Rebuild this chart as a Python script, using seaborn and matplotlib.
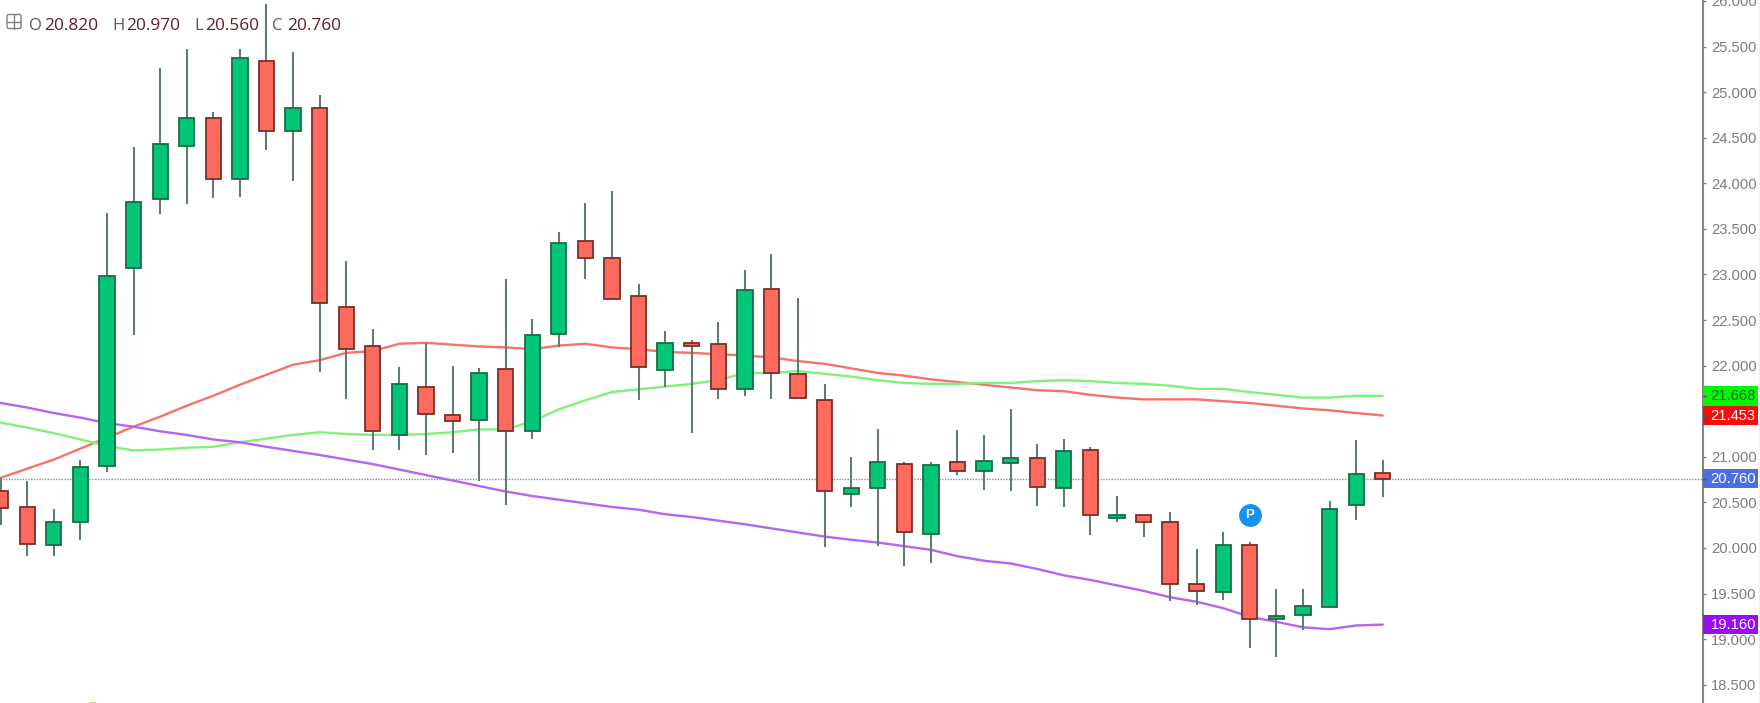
import numpy as np
import pandas as pd
import matplotlib
matplotlib.use("Agg")
import matplotlib.pyplot as plt
from matplotlib.patches import Rectangle, FancyBboxPatch
import seaborn as sns

# Daily price candles
opens = [20.62, 20.45, 20.03, 20.29, 20.90, 23.07, 23.83, 24.41, 24.72, 24.05, 25.34, 24.57, 24.83,
         22.64, 22.21, 21.24, 21.77, 21.46, 21.40, 21.96, 21.28, 22.35, 23.37, 23.18, 22.76, 21.95,
         22.25, 22.24, 21.74, 22.84, 21.91, 21.62, 20.59, 20.66, 20.92, 20.15, 20.94, 20.84, 20.93,
         20.99, 20.66, 21.08, 20.33, 20.36, 20.29, 19.61, 19.52, 20.03, 19.22, 19.26, 19.35, 20.47, 20.82]
highs = [20.77, 20.74, 20.43, 20.96, 23.67, 24.40, 25.26, 25.47, 24.78, 25.47, 25.97, 25.44, 24.97,
         23.15, 22.40, 21.98, 22.25, 22.00, 21.97, 22.95, 22.51, 23.47, 23.78, 23.92, 22.89, 22.38,
         22.28, 22.48, 23.05, 23.22, 22.74, 21.80, 21.00, 21.30, 20.94, 20.94, 21.29, 21.24, 21.52,
         21.14, 21.19, 21.11, 20.57, 20.36, 20.40, 19.99, 20.17, 20.07, 19.55, 19.55, 20.51, 21.18, 20.97]
lows = [20.25, 19.91, 19.91, 20.09, 20.83, 22.34, 23.66, 23.77, 23.84, 23.85, 24.36, 24.03, 21.93,
        21.63, 21.08, 21.08, 21.02, 21.04, 20.74, 20.47, 21.19, 22.20, 22.95, 22.73, 21.62, 21.77,
        21.26, 21.63, 21.67, 21.63, 21.65, 20.01, 20.45, 20.02, 19.80, 19.84, 20.80, 20.64, 20.63,
        20.46, 20.45, 20.14, 20.28, 20.12, 19.42, 19.38, 19.43, 18.90, 18.80, 19.10, 19.34, 20.31, 20.56]
closes = [20.44, 20.04, 20.29, 20.89, 22.98, 23.79, 24.43, 24.72, 24.05, 25.37, 24.57, 24.83, 22.69,
          22.18, 21.28, 21.80, 21.47, 21.39, 21.92, 21.28, 22.34, 23.35, 23.18, 22.73, 21.98, 22.25,
          22.22, 21.74, 22.83, 21.92, 21.65, 20.63, 20.66, 20.94, 20.18, 20.91, 20.84, 20.95, 20.99,
          20.67, 21.06, 20.36, 20.36, 20.29, 19.61, 19.53, 20.03, 19.22, 19.25, 19.36, 20.43, 20.81, 20.76]

# Moving averages
ma_red = [20.77, 20.87, 20.97, 21.09, 21.21, 21.33, 21.44, 21.56, 21.67, 21.79, 21.90, 22.01, 22.06,
          22.14, 22.16, 22.24, 22.25, 22.23, 22.21, 22.20, 22.18, 22.22, 22.24, 22.20, 22.18, 22.15,
          22.14, 22.125, 22.11, 22.09, 22.05, 22.02, 21.97, 21.92, 21.89, 21.85, 21.82, 21.79, 21.76,
          21.73, 21.72, 21.68, 21.65, 21.63, 21.63, 21.63, 21.61, 21.59, 21.56, 21.53, 21.51, 21.48, 21.453]
ma_green = [21.375, 21.32, 21.26, 21.19, 21.12, 21.07, 21.08, 21.10, 21.11, 21.16, 21.20, 21.24, 21.27,
            21.25, 21.24, 21.24, 21.25, 21.27, 21.30, 21.30, 21.39, 21.52, 21.62, 21.71, 21.74, 21.77,
            21.80, 21.84, 21.92, 21.92, 21.94, 21.91, 21.88, 21.84, 21.81, 21.80, 21.80, 21.81, 21.81,
            21.83, 21.84, 21.83, 21.81, 21.80, 21.78, 21.745, 21.745, 21.71, 21.68, 21.65, 21.65, 21.67, 21.668]
ma_purple = [21.59, 21.54, 21.48, 21.43, 21.37, 21.33, 21.28, 21.24, 21.19, 21.16, 21.11, 21.065, 21.02,
             20.97, 20.92, 20.86, 20.80, 20.74, 20.68, 20.62, 20.57, 20.53, 20.49, 20.45, 20.42, 20.37,
             20.34, 20.30, 20.26, 20.215, 20.17, 20.125, 20.09, 20.06, 20.02, 19.98, 19.91, 19.86, 19.83,
             19.77, 19.70, 19.65, 19.59, 19.53, 19.46, 19.41, 19.34, 19.245, 19.19, 19.13, 19.11, 19.15, 19.16]

price_ticks = [18.5, 19.0, 19.5, 20.0, 20.5, 21.0, 21.5, 22.0, 22.5, 23.0, 23.5, 24.0, 24.5, 25.0, 25.5, 26.0]
last_price = 20.760
ohlc_letters = ["O", "H", "L", "C"]
ohlc_values = ["20.820", "20.970", "20.560", "20.760"]
price_tags = [(21.668, "#00f808", "#1f6a1f"), (21.453, "#fa0a0a", "white"),
              (20.760, "#4a6fe0", "white"), (19.160, "#9a0cf5", "white")]
pivot_bar = 47
pivot_price = 20.36

UP, DOWN = "#00c676", "#ff6a5e"
UP_EDGE, DOWN_EDGE = "#1c6a4a", "#7a2e2a"
WICK = "#5f7d70"
GRAY = "#7c7c7c"

sns.set_theme(style="white")
plt.rcParams["font.family"] = ["Liberation Sans", "DejaVu Sans"]

W, H, AXIS_X = 1760, 703, 1703
fig = plt.figure(figsize=(W / 100, H / 100), dpi=100, facecolor="white")
ax = fig.add_axes([0, 0, AXIS_X / W, 1])
ax.set_xlim(-0.026, 64.05)
ax.set_ylim(18.30, 26.01)

frame = pd.DataFrame({"bar": np.arange(len(opens)), "open": opens, "high": highs,
                      "low": lows, "close": closes,
                      "red": ma_red, "green": ma_green, "purple": ma_purple})
rising = frame["close"] >= frame["open"]

# Last-price guide sits behind everything else
ax.axhline(last_price, color="#5b78d8", lw=1.0, ls=(0, (1, 1)), alpha=0.85, zorder=1)

for name, colour in [("red", "#f5736b"), ("green", "#80f27a"), ("purple", "#b565f0")]:
    sns.lineplot(data=frame, x="bar", y=name, color=colour, lw=1.7, ax=ax, zorder=2, legend=False)

ax.vlines(frame["bar"], frame["low"], frame["high"], color=WICK, lw=1.5, zorder=3)
ax.bar(frame["bar"], frame["close"] - frame["open"], bottom=frame["open"], width=0.575,
       color=np.where(rising, UP, DOWN), edgecolor=np.where(rising, UP_EDGE, DOWN_EDGE),
       linewidth=1.3, zorder=4)

# Pivot badge
ax.scatter([pivot_bar], [pivot_price], s=270, color="#1492f5", linewidths=0, zorder=5)
ax.text(pivot_bar, pivot_price, "P", color="white", fontsize=9.5, fontweight="bold",
        ha="center", va="center", zorder=6)

# Price scale on the right
ax.set_xlabel("")
ax.set_ylabel("")
ax.set_xticks([])
ax.yaxis.tick_right()
ax.set_yticks(price_ticks)
ax.set_yticklabels([f"{t:.3f}" for t in price_ticks])
ax.tick_params(axis="y", which="major", right=True, length=2.5, width=1, color=GRAY,
               labelcolor=GRAY, labelsize=10.6, pad=3.4)
for side in ("left", "top", "bottom"):
    ax.spines[side].set_visible(False)
ax.spines["right"].set_color("#858585")
ax.spines["right"].set_linewidth(1.5)

# Tags for the current values on the scale
tag_height = 19.5 * (26.01 - 18.30) / H
tag_right = 1758 / AXIS_X
trans = ax.get_yaxis_transform()
for value, face, ink in price_tags:
    ax.add_patch(Rectangle((1.0, value - tag_height / 2), tag_right - 1.0, tag_height, transform=trans,
                           facecolor=face, edgecolor="none", clip_on=False, zorder=7))
    ax.plot([1.0, 1.002], [value, value], transform=trans, color="#555555", lw=1, clip_on=False, zorder=8)
    ax.annotate(f"{value:.3f}", xy=(1.0, value), xycoords=trans, xytext=(5.4, 0), textcoords="offset points",
                color=ink, fontsize=10.6, ha="left", va="center", clip_on=False, zorder=8)

# Outer edge of the price scale
fig.add_artist(plt.Line2D([1759.5 / W] * 2, [0, 1], color="#bdbdbd", lw=1))

# Sliver of a toolbar icon along the bottom edge
fig.add_artist(Rectangle((90 / W, 0), 6 / W, 1.5 / H, transform=fig.transFigure,
                         facecolor="#f5c080", edgecolor="none"))

# OHLC readout with its collapse box
fig.add_artist(FancyBboxPatch((7 / W, 1 - 28.5 / H), 14 / W, 14 / H, transform=fig.transFigure,
                              boxstyle="round,pad=0,rounding_size=0.001", mutation_aspect=W / H,
                              facecolor="white", edgecolor="#808080", lw=1))
fig.add_artist(plt.Line2D([7 / W, 21 / W], [1 - 21.5 / H] * 2, color="#808080", lw=1))
fig.add_artist(plt.Line2D([14 / W] * 2, [1 - 14.5 / H, 1 - 28.5 / H], color="#808080", lw=1))
for letter, value, lx, vx in zip(ohlc_letters, ohlc_values, [29, 112, 194, 272], [44, 126, 205, 287]):
    fig.text(lx / W, 1 - 30 / H, letter, family="Open Sans", fontsize=12, color="#5a5a5a")
    fig.text(vx / W, 1 - 30 / H, value, family="Open Sans", fontsize=12.4, color="#5e1f1f")

fig.savefig("out.png", dpi=100, facecolor="white")
